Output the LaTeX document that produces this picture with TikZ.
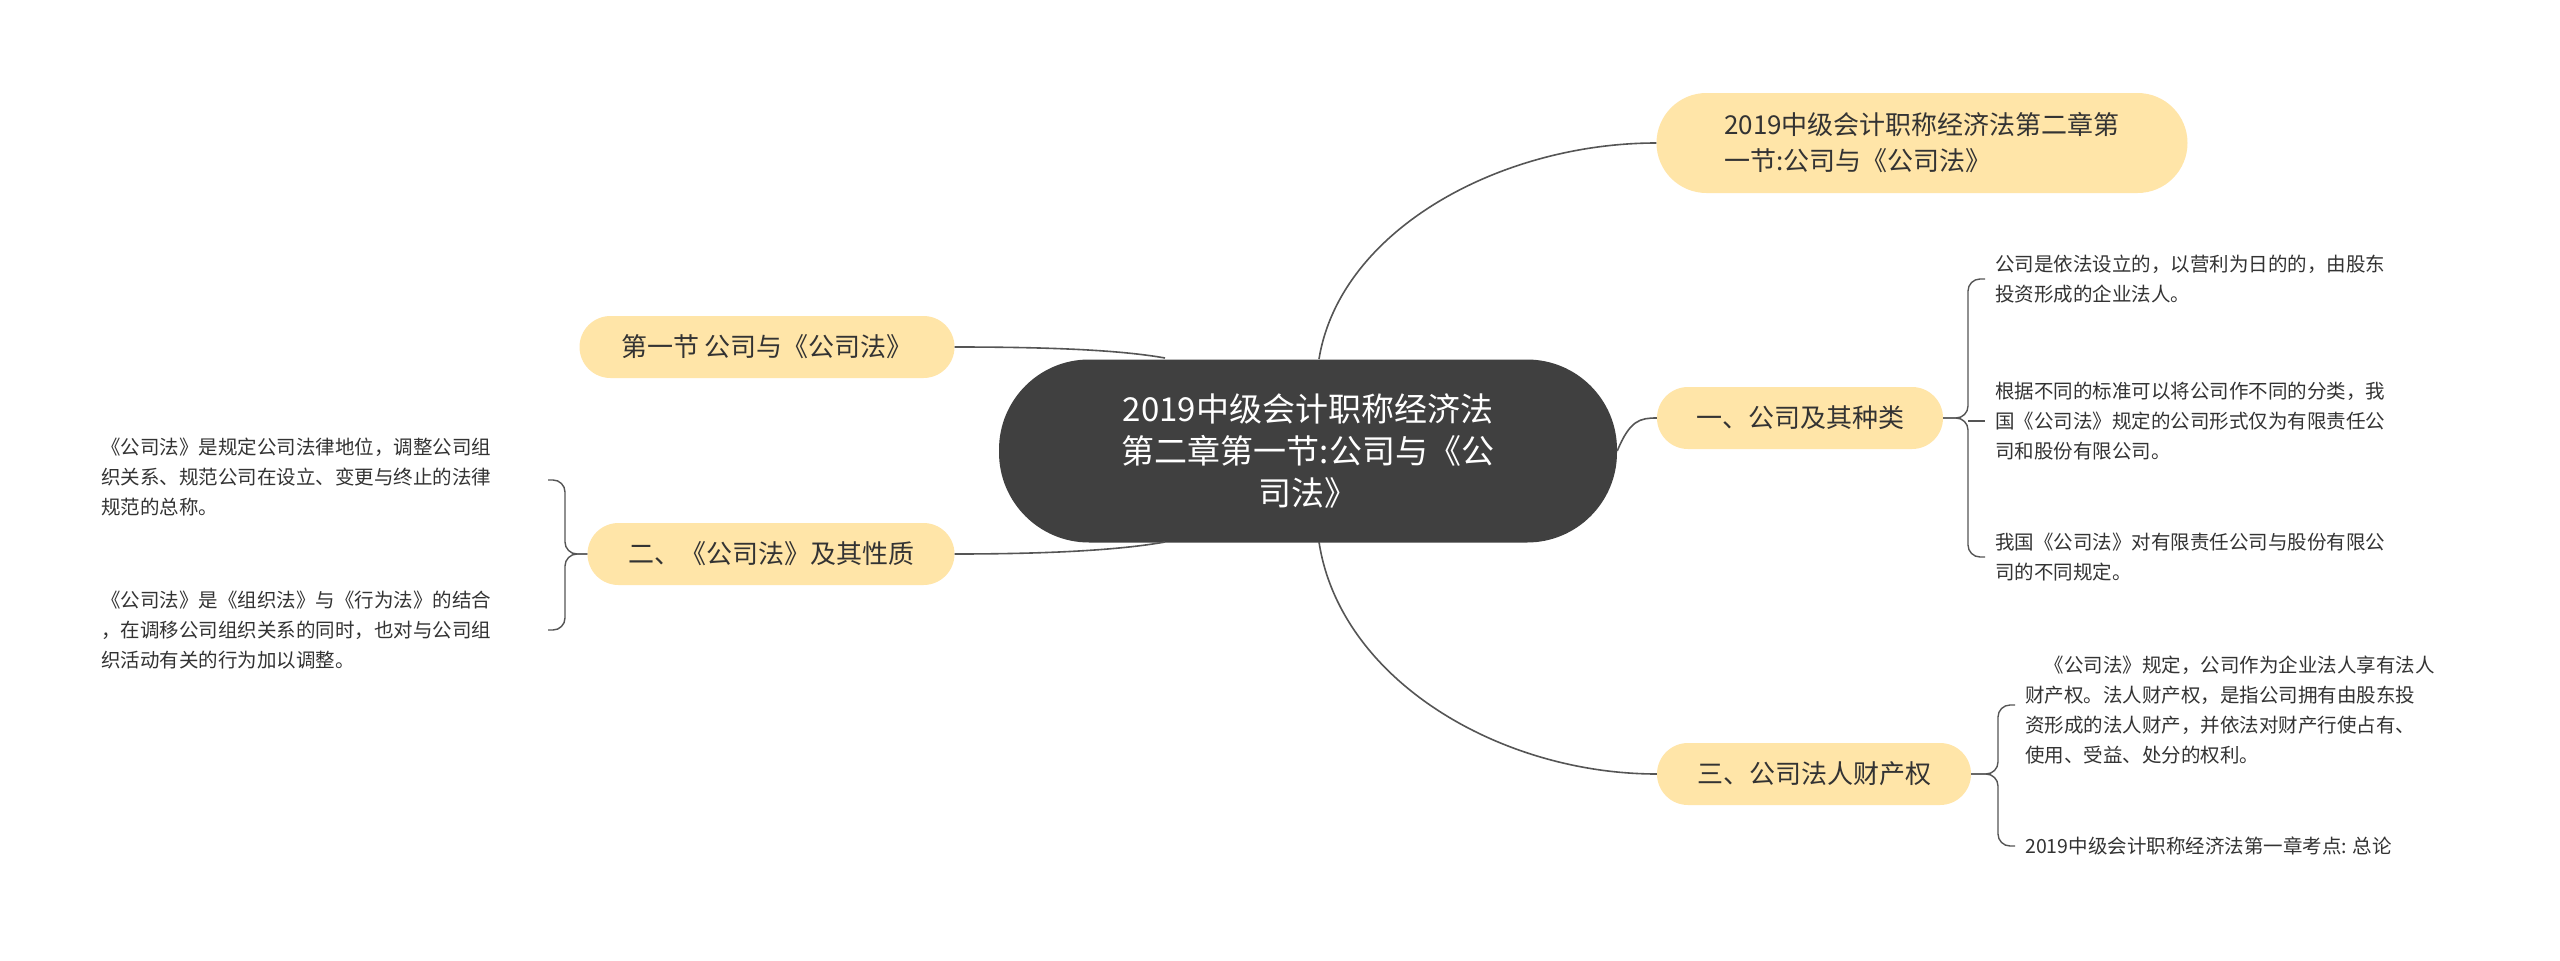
\documentclass[tikz,border=0pt]{standalone}
\usepackage{fontspec}
\setmainfont{Noto Sans CJK SC}
\definecolor{pill}{HTML}{FFE5A8}
\definecolor{dark}{HTML}{404040}
\definecolor{ln}{HTML}{555555}
\definecolor{tx}{HTML}{333333}
\begin{document}
\begin{tikzpicture}[x=1pt,y=-1pt,
  branch/.style={fill=pill,rounded corners=31pt,minimum height=62pt,inner xsep=28pt,font=\fontsize{26}{32}\selectfont,text=tx,align=left},
  leaf/.style={font=\fontsize{19.5}{30}\selectfont,text=tx,align=left,anchor=west,inner sep=0pt},
  conn/.style={draw=ln,line width=1.6pt},
  brk/.style={draw=ln,line width=1.4pt,rounded corners=12pt}]
\useasboundingbox (0,0) rectangle (2560,961);
\fill[white] (0,0) rectangle (2560,961);
\node[fill=dark,rounded corners=90pt,minimum width=618pt,minimum height=183pt,text=white,align=center,font=\fontsize{33}{42}\selectfont] (c) at (1308,451) {2019中级会计职称经济法\\第二章第一节:公司与《公\\司法》};
\node[branch,minimum width=531pt,minimum height=100pt,rounded corners=50pt,font=\fontsize{26}{36}\selectfont] (t) at (1922,143) {2019中级会计职称经济法第二章第\\一节:公司与《公司法》};
\node[branch,minimum width=286pt] (b1) at (1800,418) {一、公司及其种类};
\node[branch,minimum width=314pt] (b3) at (1814,774) {三、公司法人财产权};
\node[branch,minimum width=375pt] (l1) at (767,347) {第一节 公司与《公司法》};
\node[branch,minimum width=367pt] (l2) at (771,554) {二、《公司法》及其性质};
% leaves
\node[leaf] (a1) at (1995,279) {公司是依法设立的，以营利为日的的，由股东\\投资形成的企业法人。};
\node[leaf] (a2) at (1995,421) {根据不同的标准可以将公司作不同的分类，我\\国《公司法》规定的公司形式仅为有限责任公\\司和股份有限公司。};
\node[leaf] (a3) at (1995,557) {我国《公司法》对有限责任公司与股份有限公\\司的不同规定。};
\node[leaf] (d1) at (2025,710) {\hspace*{1em}《公司法》规定，公司作为企业法人享有法人\\财产权。法人财产权，是指公司拥有由股东投\\资形成的法人财产，并依法对财产行使占有、\\使用、受益、处分的权利。};
\node[leaf] (d2) at (2025,846) {2019中级会计职称经济法第一章考点: 总论};
\node[leaf] (e1) at (101,477) {《公司法》是规定公司法律地位，调整公司组\\织关系、规范公司在设立、变更与终止的法律\\规范的总称。};
\node[leaf] (e2) at (101,630) {《公司法》是《组织法》与《行为法》的结合\\，在调移公司组织关系的同时，也对与公司组\\织活动有关的行为加以调整。};
% connectors
\coordinate (ct) at (1319,359);
\coordinate (cb) at (1319,542);
\draw[conn] (ct) .. controls (1340,230) and (1500,143) .. (t.west);
\draw[conn] (c.east) .. controls (1630,420) and (1640,418) .. (b1.west);
\draw[conn] (cb) .. controls (1340,680) and (1500,774) .. (b3.west);
\draw[conn] (l1.east) .. controls (1050,347) and (1120,350) .. (1165,358);
\draw[conn] (l2.east) .. controls (1050,554) and (1120,550) .. (1165,542);
% brackets
\draw[brk] (b1.east) -- (1968,418) -- (1968,279) -- (1985,279);
\draw[brk] (b1.east) -- (1968,418) -- (1968,557) -- (1985,557);
\draw[brk] (1968,421) -- (1985,421);
\draw[brk] (b3.east) -- (1998,774) -- (1998,705) -- (2015,705);
\draw[brk] (b3.east) -- (1998,774) -- (1998,846) -- (2015,846);
\draw[brk] (l2.west) -- (565,554) -- (565,480) -- (548,480);
\draw[brk] (l2.west) -- (565,554) -- (565,630) -- (548,630);
\end{tikzpicture}
\end{document}
